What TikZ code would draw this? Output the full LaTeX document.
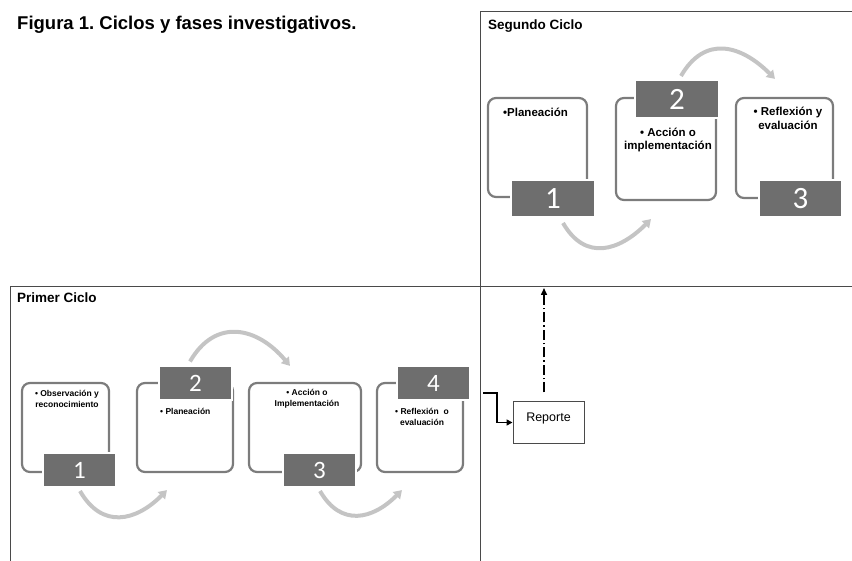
\documentclass[tikz,border=0pt]{standalone}
\usepackage{fontspec}
\setmainfont{Liberation Sans}
\newfontfamily\numfont{Carlito}
\usetikzlibrary{arrows.meta}
\definecolor{boxline}{HTML}{7C7C7C}
\definecolor{numfill}{HTML}{6E6E6E}
\definecolor{flowgray}{HTML}{C4C4C4}
\definecolor{frameline}{HTML}{4A4A4A}
\frenchspacing

\begin{document}
\begin{tikzpicture}[x=1pt,y=1pt,
    phase/.style={draw=boxline,line width=2.2pt,rounded corners=8pt},
    numbig/.style={fill=numfill,draw=white,line width=2pt,text=white,inner sep=0pt,
        font=\numfont\fontsize{31}{31}\selectfont},
    numsmall/.style={numbig,font=\numfont\fontsize{25}{25}\selectfont,minimum width=73pt,minimum height=34pt},
    txtbig/.style={font=\bfseries\fontsize{11.5}{13.5}\selectfont,align=center,inner sep=0pt},
    txtsmall/.style={font=\bfseries\fontsize{8.5}{11}\selectfont,align=center,inner sep=0pt},
    flow/.style={draw=flowgray,line width=4pt,-{Triangle[length=8pt,width=10pt]},looseness=1.3},
    cycle/.style={draw=frameline,line width=1pt}]
    \useasboundingbox (0,0) rectangle (852,-561);

    % titulo y marcos
    \node[anchor=base west,inner sep=0pt,font=\bfseries\fontsize{18.5}{20}\selectfont] (title) at (17,-30) {Figura 1. Ciclos y fases investigativos.};
    \draw[cycle] (480,-561) -- (480,-12) -- (852,-12);
    \draw[cycle] (10,-561) -- (10,-287) -- (852,-287);
    \node[anchor=base west,inner sep=0pt,font=\bfseries\fontsize{13.5}{15}\selectfont] (second) at (488,-30) {Segundo Ciclo};
    \node[anchor=base west,inner sep=0pt,font=\bfseries\fontsize{13.5}{15}\selectfont] (first) at (17,-303) {Primer Ciclo};

    % segundo ciclo
    \node[phase,minimum width=99pt,minimum height=99pt] (pA) at (537.5,-147.5) {};
    \node[phase,minimum width=100pt,minimum height=102pt] (pB) at (666,-149) {};
    \node[phase,minimum width=97pt,minimum height=100pt] (pC) at (784.5,-148) {};
    \node[numbig,minimum width=84pt,minimum height=37pt] (nA) at (553,-198.5) {1};
    \node[numbig,minimum width=84pt,minimum height=38pt] (nB) at (677,-99) {2};
    \node[numbig,minimum width=83pt,minimum height=37pt] (nC) at (800.5,-198.5) {3};
    \node[txtbig,anchor=west] (tA) at (503,-112) {•Planeación};
    \node[txtbig] (tB) at (668,-140) {• Acción o\\implementación};
    \node[txtbig] (tC) at (788,-118.5) {• Reflexión y\\evaluación};
    \draw[flow] ([xshift=10pt,yshift=-5pt]nA.south) to[out=-60,in=-135] ([xshift=-15pt,yshift=-18pt]pB.south);
    \draw[flow] ([xshift=4pt,yshift=3pt]nB.north) to[out=60,in=135] ([xshift=-9.5pt,yshift=18pt]pC.north);

    % primer ciclo
    \node[phase,minimum width=87pt,minimum height=89pt] (p1) at (65.5,-427.5) {};
    \node[phase,minimum width=96pt,minimum height=89pt] (p2) at (185,-427.5) {};
    \node[phase,minimum width=112pt,minimum height=89pt] (p3) at (305,-427.5) {};
    \node[phase,minimum width=86pt,minimum height=89pt] (p4) at (420,-427.5) {};
    \node[numsmall] (n1) at (79.5,-470) {1};
    \node[numsmall] (n2) at (195.5,-383.5) {2};
    \node[numsmall] (n3) at (319.5,-470) {3};
    \node[numsmall] (n4) at (433.5,-383.5) {4};
    \node[txtsmall] (t1) at (67,-398.5) {• Observación y\\reconocimiento};
    \node[txtsmall,anchor=west] (t2) at (160,-411) {• Planeación};
    \node[txtsmall] (t3) at (307,-398.5) {• Acción o\\Implementación};
    \node[txtsmall] (t4) at (422,-416.5) {• Reflexión~ o\\evaluación};
    \draw[flow] ([xshift=0.5pt,yshift=-3pt]n1.south) to[out=-60,in=-135] ([xshift=-18pt,yshift=-17pt]p2.south);
    \draw[flow] ([xshift=-5.5pt,yshift=4pt]n2.north) to[out=60,in=130] ([xshift=-15pt,yshift=16pt]p3.north);
    \draw[flow] ([xshift=0.5pt,yshift=-3pt]n3.south) to[out=-60,in=-135] ([xshift=-18pt,yshift=-17pt]p4.south);

    % reporte
    \node[draw=frameline,line width=1pt,minimum width=71pt,minimum height=41pt,text depth=10pt,
        font=\fontsize{12.5}{14}\selectfont] (rep) at (548.5,-422.5) {Reporte};
    \coordinate (exit) at (483,-393);
    \coordinate (back) at (544,-288);
    \draw[line width=1.5pt,-{Triangle[length=6pt,width=6pt]}] (exit) -- ++(14,0) |- (rep.west);
    \draw[line width=1.5pt,dash pattern=on 10pt off 3pt on 1.5pt off 3pt,-{Triangle[length=7pt,width=6pt]}]
        ([xshift=-4.5pt,yshift=9pt]rep.north) -- (back);
\end{tikzpicture}
\end{document}
